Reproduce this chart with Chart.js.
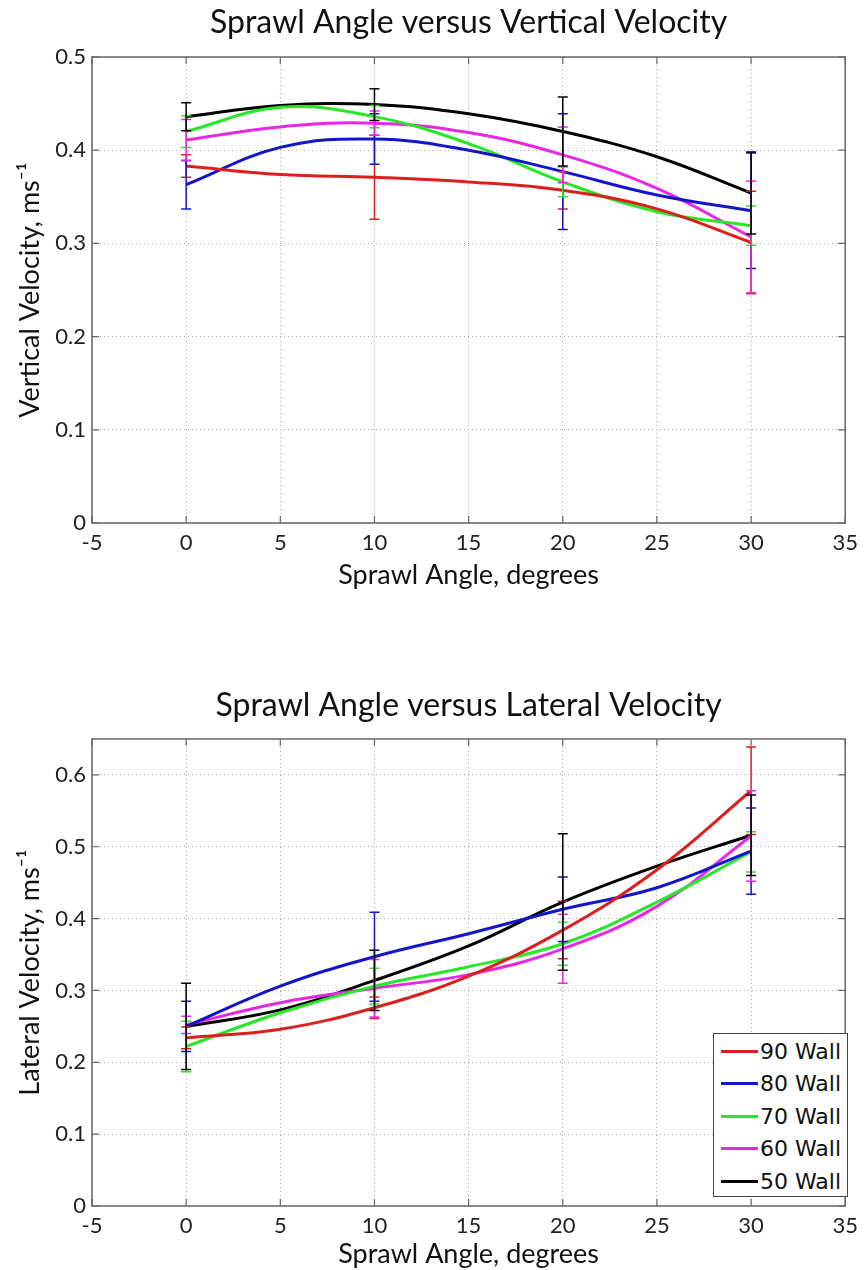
<!DOCTYPE html>
<html>
<head>
<meta charset="utf-8">
<script src="https://cdn.jsdelivr.net/npm/chart.js@4/dist/chart.umd.min.js"></script>
<style>
  html, body { margin: 0; padding: 0; background: #fff; }
  body { width: 865px; height: 1270px; position: relative; overflow: hidden; }
  .wrap { position: absolute; left: 0; width: 865px; height: 610px; }
  #legend { position: absolute; left: 713px; top: 1033px; width: 135px; height: 164px;
            border: 1px solid #444; background: #fff; font-family: "DejaVu Sans", sans-serif;
            font-size: 22px; color: #111; box-sizing: border-box; padding-top: 1px; }
  #legend .row { height: 32.5px; display: flex; align-items: center; }
  #legend .sw { width: 37px; height: 3px; margin-left: 7px; margin-right: 2px; }
</style>
</head>
<body>
<div class="wrap" style="top:0"><canvas id="c1" width="865" height="610"></canvas></div>
<div class="wrap" style="top:660px"><canvas id="c2" width="865" height="610"></canvas></div>
<div id="legend"></div>
<script>
// ---------- data ----------
const sprawlAngles = [0, 5, 10, 15, 20, 25, 30];      // x positions where curves were read
const errAngles = [0, 10, 20, 30];                      // x positions of error bars
const seriesNames = ["90 Wall", "80 Wall", "70 Wall", "60 Wall", "50 Wall"];
const seriesColors = ["#dc1e1e", "#1414c8", "#28e628", "#e628e6", "#000000"];

// Vertical velocity (top chart)
const vert90 = [0.383, 0.374, 0.371, 0.366, 0.357, 0.337, 0.301];
const vert80 = [0.363, 0.403, 0.412, 0.400, 0.377, 0.352, 0.335];
const vert70 = [0.420, 0.446, 0.436, 0.407, 0.366, 0.334, 0.319];
const vert60 = [0.411, 0.425, 0.429, 0.419, 0.395, 0.359, 0.307];
const vert50 = [0.436, 0.448, 0.449, 0.439, 0.420, 0.393, 0.354];
const vertErr90 = [0.012, 0.045, 0.020, 0.055];
const vertErr80 = [0.026, 0.027, 0.062, 0.062];
const vertErr70 = [0.017, 0.012, 0.016, 0.021];
const vertErr60 = [0.022, 0.013, 0.030, 0.060];
const vertErr50 = [0.015, 0.017, 0.037, 0.044];

// Lateral velocity (bottom chart)
const lat90 = [0.234, 0.246, 0.276, 0.320, 0.384, 0.468, 0.578];
const lat80 = [0.250, 0.306, 0.347, 0.379, 0.413, 0.443, 0.494];
const lat70 = [0.222, 0.269, 0.306, 0.333, 0.365, 0.423, 0.493];
const lat60 = [0.252, 0.283, 0.303, 0.322, 0.358, 0.417, 0.515];
const lat50 = [0.250, 0.273, 0.314, 0.362, 0.423, 0.473, 0.516];
const latErr90 = [0.015, 0.015, 0.040, 0.061];
const latErr80 = [0.035, 0.062, 0.045, 0.060];
const latErr70 = [0.035, 0.025, 0.030, 0.028];
const latErr60 = [0.012, 0.040, 0.048, 0.063];
const latErr50 = [0.060, 0.042, 0.095, 0.056];

const xTickMin = -5, xTickMax = 35, xTickStep = 5;

// ---------- plugin: title over plot, frame, inward ticks, error bars ----------
const framePlugin = {
  id: 'frame',
  afterDatasetsDraw(chart, args, opts) {
    const ctx = chart.ctx, xs = chart.scales.x, ys = chart.scales.y;
    chart.data.datasets.forEach(ds => {
      ctx.save();
      ctx.strokeStyle = ds.borderColor;
      ctx.lineWidth = 1.5;
      errAngles.forEach((ax, j) => {
        const pt = ds.data.find(p => p.x === ax);
        const e = ds.errBars[j];
        const px = xs.getPixelForValue(ax);
        const y1 = ys.getPixelForValue(pt.y - e), y2 = ys.getPixelForValue(pt.y + e);
        ctx.beginPath();
        ctx.moveTo(px, y1); ctx.lineTo(px, y2);
        ctx.moveTo(px - 5, y1); ctx.lineTo(px + 5, y1);
        ctx.moveTo(px - 5, y2); ctx.lineTo(px + 5, y2);
        ctx.stroke();
      });
      ctx.restore();
    });
  },
  afterDraw(chart, args, opts) {
    const ctx = chart.ctx, a = chart.chartArea;
    ctx.save();
    ctx.strokeStyle = '#666';
    ctx.lineWidth = 1.5;
    ctx.strokeRect(a.left, a.top, a.right - a.left, a.bottom - a.top);
    ctx.lineWidth = 1.2;
    ctx.beginPath();
    chart.scales.x.ticks.forEach(t => {
      const px = chart.scales.x.getPixelForValue(t.value);
      ctx.moveTo(px, a.bottom); ctx.lineTo(px, a.bottom - 7);
      ctx.moveTo(px, a.top); ctx.lineTo(px, a.top + 7);
    });
    chart.scales.y.ticks.forEach(t => {
      const py = chart.scales.y.getPixelForValue(t.value);
      ctx.moveTo(a.left, py); ctx.lineTo(a.left + 7, py);
      ctx.moveTo(a.right, py); ctx.lineTo(a.right - 7, py);
    });
    ctx.stroke();
    // title centred over the plot area
    ctx.fillStyle = '#111';
    ctx.font = '32px Lato';
    ctx.textAlign = 'center';
    ctx.textBaseline = 'alphabetic';
    ctx.fillText(opts.title, (a.left + a.right) / 2, opts.titleBaseline);
    ctx.restore();
  }
};

function makeChart(id, cfg) {
  const series = cfg.series.map((vals, i) => ({
    label: seriesNames[i],
    data: sprawlAngles.map((x, k) => ({ x, y: vals[k] })),
    errBars: cfg.errs[i],
    borderColor: seriesColors[i],
    backgroundColor: seriesColors[i],
    borderWidth: 3,
    pointRadius: 0,
    tension: 0.4,
    fill: false
  }));
  return new Chart(document.getElementById(id), {
    type: 'line',
    data: { datasets: series },
    plugins: [framePlugin],
    options: {
      responsive: false,
      animation: false,
      layout: { padding: { left: 0, right: 16, top: cfg.plotTop, bottom: 0 } },
      plugins: {
        legend: { display: false },
        tooltip: { enabled: false },
        title: { display: false },
        frame: { title: cfg.title, titleBaseline: cfg.titleBaseline }
      },
      scales: {
        x: {
          type: 'linear', min: xTickMin, max: xTickMax,
          afterFit(s) { s.height = cfg.xHeight; },
          ticks: { stepSize: xTickStep, padding: 7, color: '#222',
                   font: { family: 'Lato', size: 22 } },
          grid: { color: '#aaa', lineWidth: 1, drawTicks: false },
          border: { display: false, dash: [1, 3] },
          title: { display: true, text: 'Sprawl Angle, degrees', color: '#111',
                   font: { family: 'Lato', size: 27, lineHeight: 1.2 },
                   padding: { top: 0, bottom: cfg.xTitleBottom } }
        },
        y: {
          type: 'linear', min: 0, max: cfg.yMax,
          afterFit(s) { s.width = 92; },
          ticks: { stepSize: 0.1, includeBounds: false, padding: 6, color: '#222',
                   font: { family: 'Lato', size: 22 } },
          grid: { color: '#aaa', lineWidth: 1, drawTicks: false },
          border: { display: false, dash: [1, 3] },
          title: { display: true, text: cfg.yTitle, color: '#111',
                   font: { family: 'Lato', size: 27, lineHeight: 1.2 },
                   padding: { top: 14, bottom: 0 } }
        }
      }
    }
  });
}

makeChart('c1', {
  title: 'Sprawl Angle versus Vertical Velocity',
  yTitle: 'Vertical Velocity, ms\u207B\u00B9',
  series: [vert90, vert80, vert70, vert60, vert50],
  errs: [vertErr90, vertErr80, vertErr70, vertErr60, vertErr50],
  yMax: 0.5, plotTop: 57, titleBaseline: 33, xHeight: 87, xTitleBottom: 18.8
});

makeChart('c2', {
  title: 'Sprawl Angle versus Lateral Velocity',
  yTitle: 'Lateral Velocity, ms\u207B\u00B9',
  series: [lat90, lat80, lat70, lat60, lat50],
  errs: [latErr90, latErr80, latErr70, latErr60, latErr50],
  yMax: 0.65, plotTop: 79, titleBaseline: 56, xHeight: 64, xTitleBottom: 0
});

// legend (HTML, real text)
const lg = document.getElementById('legend');
seriesNames.forEach((n, i) => {
  const r = document.createElement('div'); r.className = 'row';
  const sw = document.createElement('div'); sw.className = 'sw'; sw.style.background = seriesColors[i];
  const t = document.createElement('span'); t.textContent = n;
  r.appendChild(sw); r.appendChild(t); lg.appendChild(r);
});
</script>
</body>
</html>
